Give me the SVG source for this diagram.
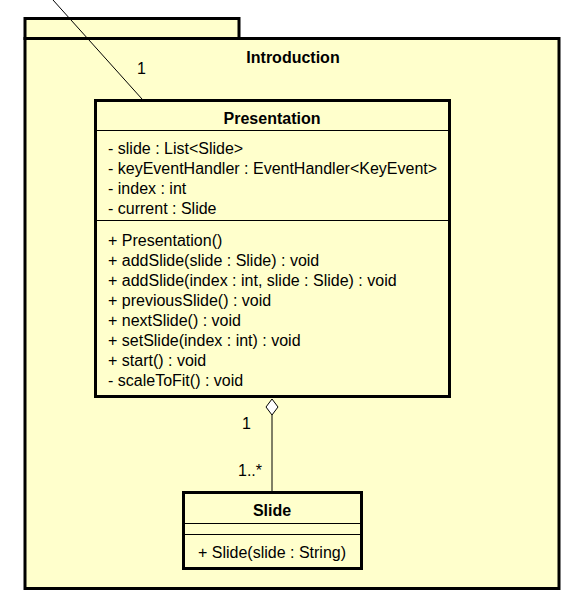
<svg xmlns="http://www.w3.org/2000/svg" width="582" height="606" viewBox="0 0 582 606">
<style>
.pkg{fill:#FFFFCC;stroke:#000;stroke-width:3}
.box{fill:#FFFFCC;stroke:#000;stroke-width:3}
.sep{stroke:#000;stroke-width:1}
.conn{stroke:#000;stroke-width:1;fill:none}
text{font-family:"Liberation Sans",Arial,sans-serif;font-size:16px;fill:#000}
.b{font-weight:bold}
.c{text-anchor:middle}
</style>
<rect width="582" height="606" fill="#fff"/>
<g id="package-introduction">
<rect class="pkg" x="25" y="18.5" width="214" height="20"/>
<rect class="pkg" x="25" y="38.5" width="534" height="550"/>
<text class="b c" x="293" y="63">Introduction</text>
</g>
<g id="connectors">
<line class="conn" x1="53" y1="0" x2="142" y2="99"/>
<text x="137" y="74">1</text>
<line class="conn" x1="272" y1="415" x2="272" y2="492"/>
<path d="M272,399 L278,407 L272,415 L266,407 Z" fill="#fff" stroke="#000" stroke-width="1"/>
<text x="242" y="429">1</text>
<text x="238" y="476">1..*</text>
</g>
<g id="node-presentation">
<rect class="box" x="95.5" y="100.5" width="354" height="296"/>
<line class="sep" x1="96" y1="130.5" x2="449" y2="130.5"/>
<line class="sep" x1="96" y1="220.5" x2="449" y2="220.5"/>
<text class="b c" x="272" y="124">Presentation</text>
<text x="108" y="154">- slide : List&lt;Slide&gt;</text>
<text x="108" y="174">- keyEventHandler : EventHandler&lt;KeyEvent&gt;</text>
<text x="108" y="194">- index : int</text>
<text x="108" y="214">- current : Slide</text>
<text x="108" y="246">+ Presentation()</text>
<text x="108" y="266">+ addSlide(slide : Slide) : void</text>
<text x="108" y="286">+ addSlide(index : int, slide : Slide) : void</text>
<text x="108" y="306">+ previousSlide() : void</text>
<text x="108" y="326">+ nextSlide() : void</text>
<text x="108" y="346">+ setSlide(index : int) : void</text>
<text x="108" y="366">+ start() : void</text>
<text x="108" y="386">- scaleToFit() : void</text>
</g>
<g id="node-slide">
<rect class="box" x="183.5" y="492.5" width="178" height="76"/>
<line class="sep" x1="184" y1="523.5" x2="361" y2="523.5"/>
<line class="sep" x1="184" y1="534.5" x2="361" y2="534.5"/>
<text class="b c" x="272" y="516">Slide</text>
<text class="c" x="272" y="558">+ Slide(slide : String)</text>
</g>
</svg>
